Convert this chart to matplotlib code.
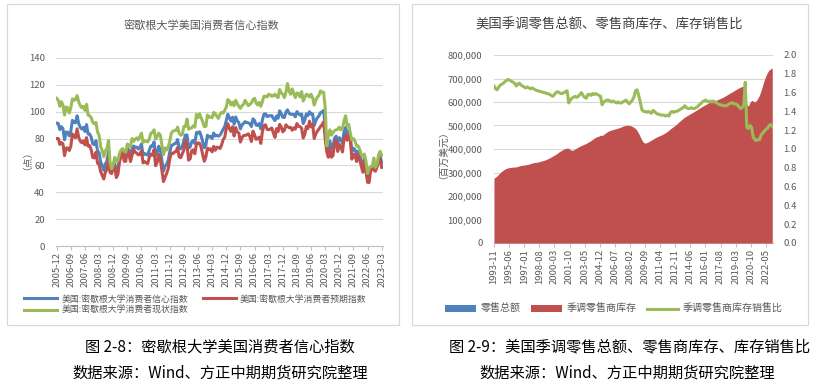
import numpy as np
import pandas as pd
import matplotlib
matplotlib.use("Agg")
import matplotlib.pyplot as plt
from matplotlib.patches import Rectangle
from matplotlib.ticker import FuncFormatter

plt.rcParams['font.family'] = ['Noto Sans CJK SC', 'DejaVu Sans']

# ---------------- Left chart data (monthly 2005-12 .. 2023-03) ----------------
left_start = '2005-12'
sentiment = [91.5,
 91.2, 86.7, 88.9, 87.4, 79.1, 84.9, 84.7, 82.0, 85.4, 93.6, 92.1, 91.7,
 96.9, 91.3, 88.4, 87.1, 88.3, 85.3, 90.4, 83.4, 83.4, 80.9, 76.1, 75.5,
 78.4, 70.8, 69.5, 62.6, 59.8, 56.4, 61.2, 63.0, 70.3, 57.6, 55.3, 60.1,
 61.2, 56.3, 57.3, 65.1, 68.7, 70.8, 66.0, 65.7, 73.5, 70.6, 67.4, 72.5,
 74.4, 73.6, 73.6, 72.2, 73.6, 76.0, 67.8, 68.9, 68.2, 67.7, 71.6, 74.5,
 74.2, 77.5, 67.5, 69.8, 74.3, 71.5, 63.7, 55.8, 59.5, 60.8, 63.7, 69.9,
 75.0, 75.3, 76.2, 76.4, 79.3, 73.2, 72.3, 74.3, 78.3, 82.6, 82.7, 72.9,
 73.8, 77.6, 78.6, 76.4, 84.5, 84.1, 85.1, 82.1, 77.5, 73.2, 75.1, 82.5,
 81.2, 81.6, 80.0, 84.1, 81.9, 82.5, 81.8, 82.5, 84.6, 86.9, 88.8, 93.6,
 98.1, 95.4, 93.0, 95.9, 90.7, 96.1, 93.1, 91.9, 87.2, 90.0, 91.3, 92.6,
 92.0, 91.7, 91.0, 89.0, 94.7, 93.5, 90.0, 89.8, 91.2, 87.2, 93.8, 98.2,
 98.5, 96.3, 96.9, 97.0, 97.1, 95.0, 93.4, 96.8, 95.1, 100.7, 98.5, 95.9,
 95.7, 99.7, 101.4, 98.8, 98.0, 98.2, 97.9, 96.2, 100.1, 98.6, 97.5, 98.3,
 91.2, 93.8, 98.4, 97.2, 100.0, 98.2, 98.4, 89.8, 93.2, 95.5, 96.8, 99.3,
 99.8, 101.0, 89.1, 71.8, 72.3, 78.1, 72.5, 74.1, 80.4, 81.8, 76.9, 80.7,
 79.0, 76.8, 84.9, 88.3, 82.9, 85.5, 81.2, 70.3, 72.8, 71.7, 67.4, 70.6,
 67.2, 62.8, 59.4, 65.2, 58.4, 50.0, 51.5, 58.2, 58.6, 59.9, 56.8, 59.7,
 64.9, 67.0, 62.0]

expectations = [80.0,
 80.1, 75.6, 77.0, 76.1, 67.3, 73.0, 73.0, 71.1, 74.1, 83.4, 81.6, 80.6,
 87.2, 80.9, 78.1, 76.9, 78.3, 75.3, 80.7, 74.4, 74.7, 71.6, 65.9, 65.6,
 69.7, 61.7, 61.2, 55.3, 52.6, 49.9, 54.9, 56.9, 65.1, 54.8, 53.9, 59.5,
 58.1, 51.0, 53.3, 62.6, 66.9, 69.7, 63.1, 63.0, 71.9, 68.4, 62.9, 67.7,
 72.1, 69.8, 69.2, 67.8, 68.5, 70.9, 61.9, 62.8, 61.9, 61.4, 66.2, 68.4,
 67.6, 71.7, 59.8, 62.3, 68.1, 64.5, 56.5, 48.0, 50.9, 54.0, 57.4, 64.7,
 69.2, 68.8, 69.9, 70.3, 73.4, 66.3, 65.8, 68.7, 71.5, 78.5, 75.1, 63.9,
 65.0, 71.0, 71.6, 68.7, 75.9, 76.8, 76.5, 73.5, 67.9, 63.1, 66.2, 72.9,
 71.7, 72.4, 70.1, 74.2, 71.3, 73.5, 73.4, 72.6, 75.1, 79.2, 81.0, 87.3,
 91.1, 87.3, 85.3, 88.8, 81.9, 88.2, 84.8, 84.2, 77.4, 80.7, 82.2, 82.4,
 82.7, 83.5, 81.7, 77.8, 85.5, 82.9, 79.4, 80.1, 81.1, 76.4, 85.0, 89.7,
 90.2, 86.9, 86.6, 87.1, 87.9, 84.1, 80.9, 87.4, 85.2, 90.6, 88.6, 85.0,
 86.2, 90.2, 88.9, 88.1, 88.4, 86.2, 87.9, 87.0, 91.2, 89.1, 88.9, 87.6,
 80.4, 83.1, 89.1, 87.4, 93.0, 88.7, 90.7, 80.1, 83.4, 85.6, 87.1, 88.9,
 90.4, 92.4, 80.2, 70.1, 66.1, 72.7, 66.1, 67.4, 76.8, 78.8, 70.4, 75.7,
 74.2, 70.0, 79.7, 82.7, 78.7, 82.3, 79.4, 64.7, 68.2, 67.7, 62.9, 68.1,
 64.1, 59.5, 54.9, 63.1, 55.5, 47.4, 47.3, 57.7, 58.0, 56.3, 55.7, 58.9,
 62.9, 64.8, 58.5]

current = [110.0,
 108.5, 104.0, 107.5, 105.0, 97.5, 103.5, 103.0, 99.0, 103.0, 109.5, 108.5, 109.0,
 112.0, 107.5, 104.5, 103.0, 104.0, 101.0, 105.5, 97.5, 97.0, 95.5, 92.0, 91.0,
 92.0, 85.0, 82.5, 74.0, 71.0, 66.5, 71.0, 72.5, 78.5, 62.0, 57.5, 61.0,
 66.0, 63.0, 63.5, 69.0, 71.5, 72.5, 70.5, 70.0, 76.0, 74.0, 74.5, 80.0,
 78.0, 79.5, 80.5, 79.0, 81.5, 84.0, 77.0, 78.5, 78.0, 77.5, 80.0, 84.0,
 84.5, 86.5, 79.5, 81.5, 84.0, 82.5, 75.0, 68.0, 73.0, 71.5, 73.5, 78.0,
 84.0, 85.5, 86.0, 86.0, 88.5, 84.0, 82.5, 83.0, 89.0, 89.0, 94.5, 87.0,
 87.5, 88.0, 89.5, 88.5, 98.0, 95.5, 98.5, 95.5, 92.5, 89.0, 89.0, 97.5,
 96.0, 96.0, 95.5, 99.5, 98.5, 96.5, 95.0, 98.0, 99.5, 99.0, 101.0, 103.5,
 109.0, 108.0, 105.0, 107.0, 104.5, 108.5, 106.0, 104.0, 102.5, 104.5, 105.5, 108.5,
 106.5, 104.5, 105.5, 106.5, 109.0, 110.0, 106.5, 105.0, 107.0, 104.0, 107.5, 111.5,
 111.5, 111.0, 113.0, 112.5, 111.5, 112.0, 113.0, 111.5, 110.5, 116.5, 114.0, 113.0,
 110.5, 114.5, 121.0, 115.5, 113.0, 117.0, 113.5, 110.5, 114.0, 113.5, 111.0, 115.0,
 108.0, 110.5, 113.0, 112.5, 111.0, 113.0, 110.5, 105.0, 108.5, 111.0, 112.0, 115.5,
 114.5, 114.5, 103.0, 74.5, 82.0, 86.5, 82.5, 84.5, 86.0, 86.5, 87.0, 88.5,
 86.5, 87.5, 93.0, 97.0, 89.5, 90.5, 84.0, 79.0, 80.0, 78.0, 74.5, 74.5,
 72.0, 68.0, 66.5, 68.5, 63.0, 54.0, 58.0, 59.0, 59.5, 65.5, 58.5, 61.0,
 68.0, 70.5, 67.5]

left_names = ['美国:密歇根大学消费者信心指数', '美国:密歇根大学消费者预期指数', '美国:密歇根大学消费者现状指数']

# ---------------- Right chart data ----------------
right_start = '1993-11'
right_months = 351           # 1993-11 .. 2023-01
# retail inventories (every 2 months), million USD
inventory = [276, 280, 286, 293, 300, 306, 311, 315, 318, 320, 321, 322, 323, 323, 324, 326, 328, 330,
 331, 332, 333, 334, 336, 338, 340, 342, 343, 344, 345, 347, 349, 351, 353, 356, 359, 362,
 366, 370, 374, 378, 383, 388, 392, 396, 400, 402, 404, 403, 397, 394, 396, 400, 404, 408,
 412, 415, 418, 421, 424, 428, 432, 436, 441, 446, 450, 453, 455, 459, 457, 462, 467, 472,
 476, 479, 481, 483, 485, 487, 489, 491, 494, 497, 499, 500, 501, 500, 499, 496, 492, 487,
 478, 466, 452, 438, 428, 425, 427, 430, 434, 438, 442, 446, 450, 453, 456, 459, 462, 466,
 470, 475, 480, 486, 491, 496, 501, 507, 513, 519, 525, 531, 536, 540, 544, 548, 552, 556,
 560, 564, 568, 573, 577, 581, 585, 589, 592, 596, 599, 601, 603, 606, 608, 611, 614, 617,
 620, 624, 628, 632, 636, 640, 644, 648, 652, 656, 660, 663, 666, 667, 660, 588, 583, 598,
 607, 604, 600, 606, 616, 630, 650, 672, 694, 712, 726, 736, 741, 745]
inventory = [v * 1000 for v in inventory]

ratio = [1.67, 1.64, 1.63, 1.66, 1.68, 1.69, 1.70, 1.72, 1.73, 1.74, 1.73, 1.72, 1.71, 1.70, 1.67, 1.69,
 1.70, 1.68, 1.67, 1.66, 1.65, 1.66, 1.65, 1.64, 1.65, 1.64, 1.63, 1.62, 1.62, 1.61, 1.61, 1.60,
 1.60, 1.59, 1.59, 1.58, 1.57, 1.56, 1.58, 1.60, 1.61, 1.60, 1.59, 1.59, 1.60, 1.61, 1.62, 1.49,
 1.52, 1.54, 1.55, 1.56, 1.55, 1.56, 1.58, 1.60, 1.57, 1.55, 1.54, 1.58, 1.58, 1.57, 1.59, 1.58,
 1.59, 1.58, 1.57, 1.56, 1.47, 1.50, 1.51, 1.52, 1.52, 1.51, 1.50, 1.51, 1.50, 1.49, 1.50, 1.49,
 1.49, 1.50, 1.51, 1.52, 1.50, 1.48, 1.50, 1.52, 1.55, 1.62, 1.63, 1.57, 1.50, 1.42, 1.40, 1.40,
 1.39, 1.40, 1.39, 1.38, 1.41, 1.40, 1.38, 1.37, 1.37, 1.36, 1.36, 1.36, 1.35, 1.36, 1.35, 1.39,
 1.40, 1.39, 1.40, 1.40, 1.41, 1.42, 1.43, 1.44, 1.46, 1.44, 1.43, 1.43, 1.44, 1.43, 1.43, 1.44,
 1.45, 1.47, 1.48, 1.50, 1.51, 1.52, 1.51, 1.50, 1.51, 1.50, 1.51, 1.50, 1.49, 1.48, 1.47, 1.47,
 1.46, 1.46, 1.46, 1.47, 1.48, 1.49, 1.49, 1.48, 1.48, 1.47, 1.45, 1.43, 1.44, 1.46, 1.71, 1.23,
 1.22, 1.25, 1.23, 1.13, 1.10, 1.09, 1.10, 1.10, 1.15, 1.17, 1.19, 1.21, 1.22, 1.25, 1.26, 1.24]

# retail sales (yearly sample, each November), million USD
sales = [170, 182, 192, 203, 212, 222, 240, 253, 260, 268, 283, 301, 315, 330, 340, 315, 305, 320,
 340, 350, 362, 375, 378, 390, 405, 420, 440, 460, 560, 595]
sales = [v * 1000 for v in sales]

right_names = ['零售总额', '季调零售商库存', '季调零售商库存销售比']

BLUE, RED, GREEN = '#4F81BD', '#C0504D', '#9BBB59'
GRID = '#d9d9d9'
TXT = '#595959'

W, H = 819, 388
fig = plt.figure(figsize=(W / 100, H / 100), dpi=100)

def fx(px):
    return px / W

def fy(py):
    return 1 - py / H

# panel borders
for x0, x1 in [(7, 399), (412, 808)]:
    fig.add_artist(Rectangle((fx(x0), fy(325)), fx(x1 - x0), (325 - 4) / H,
                             transform=fig.transFigure, fill=False, ec=GRID, lw=0.9))

# ---------------- Left chart ----------------
n = len(sentiment)
ax1 = fig.add_axes([fx(55.9), fy(246), fx(326.6), (246 - 58) / H])
x = np.arange(n)
l1, = ax1.plot(x, sentiment, color=BLUE, lw=2.2, label=left_names[0], solid_joinstyle='round')
l2, = ax1.plot(x, expectations, color=RED, lw=2.2, label=left_names[1], solid_joinstyle='round')
l3, = ax1.plot(x, current, color=GREEN, lw=2.2, label=left_names[2], solid_joinstyle='round')
ax1.set_xlim(-0.5, n - 0.5)
ax1.set_ylim(0, 140)
ax1.set_yticks(np.arange(0, 141, 20))
ax1.grid(axis='y', color=GRID, lw=0.8)
ax1.set_axisbelow(True)
periods = pd.period_range(left_start, periods=n, freq='M')
tpos = np.arange(0, n, 9)
ax1.set_xticks(tpos)
ax1.set_xticklabels([periods[i].strftime('%Y-%m') for i in tpos], rotation=90)
for s in ['top', 'right', 'left']:
    ax1.spines[s].set_visible(False)
ax1.spines['bottom'].set_color('#bfbfbf')
ax1.tick_params(axis='x', length=3, color='#bfbfbf', labelsize=6.8, labelcolor=TXT, pad=1.5)
ax1.tick_params(axis='y', length=0, labelsize=6.8, labelcolor=TXT, pad=8)
fig.text(fx(201), fy(25), '密歇根大学美国消费者信心指数', ha='center', va='center', fontsize=8, color=TXT)
fig.text(fx(22), fy(155), '（点）', rotation=90, ha='center', va='center', fontsize=7, color=TXT)
leg1 = fig.legend(handles=[l1, l3, l2], labels=[left_names[0], left_names[2], left_names[1]],
                  ncol=2, loc='upper left', bbox_to_anchor=(fx(20), fy(290)), frameon=False,
                  fontsize=6.4, handlelength=3.7, handletextpad=0.5, columnspacing=1.6,
                  labelspacing=0.25, borderpad=0)
for t in leg1.get_texts():
    t.set_color(TXT)

# ---------------- Right chart ----------------
ax2 = fig.add_axes([fx(493.5), fy(243), fx(279), (243 - 55) / H])
m_inv = np.arange(0, 2 * len(inventory), 2)
m_sales = np.arange(0, 12 * len(sales), 12)
b = ax2.bar(m_sales, sales, width=1.0, color=BLUE, lw=0, zorder=2, label=right_names[0])
f = ax2.fill_between(m_inv, inventory, color=RED, lw=0, zorder=3, label=right_names[1])
ax2.set_xlim(-0.6, right_months - 1 + 0.3)
ax2.set_ylim(0, 800000)
ax2.set_yticks(np.arange(0, 800001, 100000))
ax2.yaxis.set_major_formatter(FuncFormatter(lambda v, p: f'{int(v):,}'))
ax2.grid(axis='y', color=GRID, lw=0.8, zorder=0)
ax2.set_axisbelow(True)
rperiods = pd.period_range(right_start, periods=right_months, freq='M')
rpos = np.arange(0, right_months, 19)
ax2.set_xticks(rpos)
ax2.set_xticklabels([rperiods[i].strftime('%Y-%m') for i in rpos], rotation=90)
for s in ['top', 'right', 'left']:
    ax2.spines[s].set_visible(False)
ax2.spines['bottom'].set_color('#bfbfbf')
ax2.tick_params(axis='x', length=3, color='#bfbfbf', labelsize=6.8, labelcolor=TXT, pad=1.5)
ax2.tick_params(axis='y', length=0, labelsize=6.8, labelcolor=TXT, pad=8)

ax3 = ax2.twinx()
l4, = ax3.plot(m_inv, ratio, color=GREEN, lw=2.2, label=right_names[2], solid_joinstyle='round', zorder=4)
ax3.set_ylim(0, 2.0)
ax3.set_yticks(np.arange(0, 2.01, 0.2))
ax3.yaxis.set_major_formatter(FuncFormatter(lambda v, p: f'{v:.1f}'))
for s in ['top', 'right', 'left', 'bottom']:
    ax3.spines[s].set_visible(False)
ax3.tick_params(axis='y', length=0, labelsize=6.8, labelcolor=TXT, pad=8)

fig.text(fx(609), fy(25), '美国季调零售总额、零售商库存、库存销售比', ha='center', va='center',
         fontsize=9.6, color='#404040')
fig.text(fx(438), fy(150), '（百万美元）', rotation=90, ha='center', va='center', fontsize=7, color=TXT)
leg2 = fig.legend(handles=[b, f, l4], labels=right_names, ncol=3, loc='upper left',
                  bbox_to_anchor=(fx(440), fy(299)), frameon=False, fontsize=7.2,
                  handlelength=3.1, handletextpad=0.5, columnspacing=1.0, borderpad=0)
for t in leg2.get_texts():
    t.set_color(TXT)

# ---------------- Captions ----------------
fig.text(fx(220), fy(347), '图 2-8：密歇根大学美国消费者信心指数', ha='center', va='center', fontsize=11, color='black')
fig.text(fx(220), fy(373), '数据来源：Wind、方正中期期货研究院整理', ha='center', va='center', fontsize=11, color='black')
fig.text(fx(630), fy(347), '图 2-9：美国季调零售总额、零售商库存、库存销售比', ha='center', va='center', fontsize=11, color='black')
fig.text(fx(627), fy(373), '数据来源：Wind、方正中期期货研究院整理', ha='center', va='center', fontsize=11, color='black')

fig.savefig('out.png', dpi=100)
